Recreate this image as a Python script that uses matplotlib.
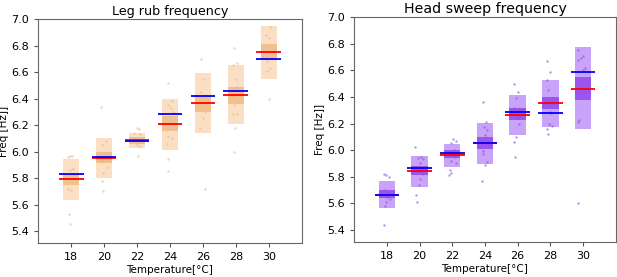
import matplotlib
matplotlib.use("Agg")
import matplotlib.pyplot as plt

temps = [18, 20, 22, 24, 26, 28, 30]

# Leg rub: mean, median, outer band (low, high), inner band (low, high)
leg_mean = [5.79, 5.955, 6.09, 6.21, 6.37, 6.425, 6.75]
leg_median = [5.83, 5.96, 6.08, 6.28, 6.42, 6.46, 6.70]
leg_outer_lo = [5.635, 5.80, 6.027, 6.015, 6.14, 6.206, 6.547]
leg_outer_hi = [5.947, 6.103, 6.143, 6.40, 6.594, 6.65, 6.95]
leg_inner_lo = [5.745, 5.91, 6.06, 6.156, 6.30, 6.36, 6.69]
leg_inner_hi = [5.83, 6.00, 6.11, 6.27, 6.43, 6.49, 6.81]
leg_points = [
    [5.97, 5.97, 5.96, 5.87, 5.86, 5.82, 5.72, 5.71, 5.53, 5.45],
    [6.34, 6.08, 6.05, 6.00, 5.96, 5.93, 5.88, 5.84, 5.78, 5.70],
    [6.18, 6.17, 6.14, 6.13, 6.10, 6.08, 6.06, 6.04, 5.97],
    [6.52, 6.38, 6.35, 6.33, 6.30, 6.22, 6.12, 6.10, 6.06, 5.94, 5.85],
    [6.70, 6.55, 6.45, 6.43, 6.40, 6.30, 6.25, 6.18, 5.72],
    [6.78, 6.67, 6.65, 6.55, 6.49, 6.42, 6.35, 6.28, 6.28, 6.18, 6.00],
    [6.94, 6.88, 6.86, 6.70, 6.68, 6.63, 6.61, 6.40],
]
leg_jitter = [
    [-0.1, 0.05, -0.2, 0.1, -0.05, 0.2, -0.2, 0.0, -0.15, -0.05],
    [-0.2, 0.1, -0.1, 0.15, 0.05, -0.15, 0.2, -0.05, -0.1, -0.05],
    [0.0, 0.1, -0.2, 0.2, -0.1, 0.15, -0.05, 0.1, 0.05],
    [-0.1, 0.1, -0.15, 0.05, 0.2, -0.05, -0.1, 0.15, -0.2, -0.15, -0.1],
    [-0.1, 0.05, -0.1, 0.1, -0.2, 0.15, 0.0, -0.2, 0.1],
    [-0.1, 0.05, -0.15, 0.0, 0.1, -0.2, -0.1, 0.1, -0.15, -0.05, -0.1],
    [0.1, -0.15, 0.0, 0.2, -0.1, 0.05, -0.1, 0.0],
]

# Head sweep
head_mean = [5.667, 5.844, 5.965, 6.055, 6.265, 6.354, 6.46]
head_median = [5.667, 5.865, 5.975, 6.055, 6.29, 6.28, 6.583]
head_outer_lo = [5.567, 5.723, 5.877, 5.895, 6.117, 6.177, 6.16]
head_outer_hi = [5.768, 5.958, 6.046, 6.205, 6.412, 6.53, 6.773]
head_inner_lo = [5.64, 5.81, 5.94, 6.01, 6.23, 6.31, 6.375]
head_inner_hi = [5.70, 5.88, 6.00, 6.10, 6.32, 6.40, 6.55]
head_points = [
    [5.82, 5.81, 5.80, 5.70, 5.68, 5.65, 5.63, 5.61, 5.58, 5.44],
    [6.02, 5.95, 5.94, 5.93, 5.90, 5.87, 5.82, 5.78, 5.74, 5.66, 5.61],
    [6.08, 6.07, 6.05, 6.00, 5.97, 5.95, 5.92, 5.90, 5.85, 5.83, 5.81],
    [6.36, 6.21, 6.17, 6.15, 6.11, 6.05, 5.99, 5.97, 5.91, 5.89, 5.77],
    [6.50, 6.44, 6.39, 6.32, 6.30, 6.26, 6.24, 6.20, 6.10, 6.06, 5.95],
    [6.67, 6.59, 6.53, 6.45, 6.35, 6.29, 6.28, 6.20, 6.18, 6.16, 6.12],
    [6.75, 6.71, 6.69, 6.68, 6.62, 6.60, 6.44, 6.23, 6.21, 5.60],
]
head_jitter = [
    [-0.2, -0.05, 0.15, -0.1, 0.1, 0.0, 0.2, -0.05, -0.1, -0.15],
    [-0.25, 0.1, -0.1, 0.2, 0.05, -0.15, 0.2, 0.0, -0.05, -0.2, -0.15],
    [0.05, 0.2, -0.1, 0.1, -0.2, 0.15, -0.05, 0.2, -0.15, -0.1, -0.2],
    [-0.1, 0.05, -0.05, 0.1, 0.0, 0.2, -0.1, -0.15, 0.1, 0.0, -0.2],
    [-0.2, 0.05, -0.1, -0.2, 0.1, 0.15, 0.0, 0.1, -0.1, -0.2, -0.15],
    [-0.2, 0.0, -0.2, -0.15, 0.1, -0.05, 0.05, -0.1, 0.1, -0.2, -0.15],
    [-0.3, 0.0, -0.1, -0.3, 0.1, 0.0, 0.1, -0.25, -0.3, -0.3],
]


def draw_panel(ax, title, tsize, mean, median, olo, ohi, ilo, ihi, pts, jit,
               light, dark, pcol, palpha):
    for i, t in enumerate(temps):
        ax.bar(t, ohi[i] - olo[i], bottom=olo[i], width=1.0, color=light,
               edgecolor='none', zorder=1)
        ax.bar(t, ihi[i] - ilo[i], bottom=ilo[i], width=1.0, color=dark,
               edgecolor='none', zorder=2)
        xs = [t + j for j in jit[i]]
        ax.scatter(xs, pts[i], s=3, color=pcol, alpha=palpha, linewidths=0,
                   zorder=3)
        ax.hlines(mean[i], t - 0.75, t + 0.75, color='red', lw=1.3, zorder=4)
        ax.hlines(median[i], t - 0.75, t + 0.75, color='blue', lw=1.3, zorder=5)
    ax.set_xlim(16, 32)
    ax.set_ylim(5.31, 7.0)
    ax.set_xticks(temps)
    ax.set_yticks([5.4, 5.6, 5.8, 6.0, 6.2, 6.4, 6.6, 6.8, 7.0])
    ax.set_yticklabels(['5.4', '5.6', '5.8', '6.0', '6.2', '6.4', '6.6', '6.8', '7.0'])
    ax.tick_params(labelsize=8, length=3, color='#555555')
    for s in ax.spines.values():
        s.set_color('#666666')
    ax.set_title(title, fontsize=tsize, pad=3)
    ax.set_xlabel('Temperature[°C]', fontsize=7.5, labelpad=2)
    ax.set_ylabel('Freq [Hz]]', fontsize=7.5, labelpad=2)


fig = plt.figure(figsize=(6.17, 2.77), dpi=100)
ax1 = fig.add_axes([0.062, 0.123, 0.427, 0.808])
ax2 = fig.add_axes([0.574, 0.126, 0.424, 0.813])

draw_panel(ax1, 'Leg rub frequency', 9.2, leg_mean, leg_median, leg_outer_lo,
           leg_outer_hi, leg_inner_lo, leg_inner_hi, leg_points, leg_jitter,
           '#fbdfc4', '#f2c08e', '#e8b080', 0.55)
draw_panel(ax2, 'Head sweep frequency', 10.2, head_mean, head_median,
           head_outer_lo, head_outer_hi, head_inner_lo, head_inner_hi,
           head_points, head_jitter, '#c9a3f7', '#9b55ec', '#8a4fe0', 0.6)

fig.savefig('out.png', dpi=100)
